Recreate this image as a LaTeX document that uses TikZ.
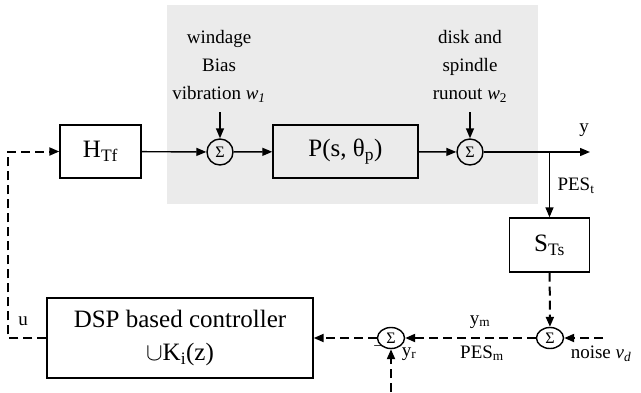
\documentclass[tikz,border=0pt]{standalone}
\usepackage{fontspec}
\setmainfont{Liberation Serif}
\usetikzlibrary{arrows.meta,shapes.geometric}
\definecolor{plantgray}{RGB}{235,235,235}
\begin{document}
\begin{tikzpicture}[x=1pt,y=-1pt,
    blk/.style={draw,line width=1.4pt,inner sep=0pt,font=\fontsize{25}{33}\selectfont,align=center},
    sum/.style={draw,circle,line width=1.4pt,minimum size=26pt,inner sep=0pt,font=\fontsize{16}{16}\selectfont},
    sumflat/.style={sum,ellipse,minimum width=27pt,minimum height=21pt},
    lbl/.style={font=\fontsize{19}{28}\selectfont,align=center},
    sig/.style={line width=1.4pt,-{Triangle[length=10pt,width=8pt]}},
    smp/.style={sig,line width=2pt,dash pattern=on 9pt off 5pt}]
    \useasboundingbox (0,0) rectangle (641,392);
    \fill[plantgray] (167,5) rectangle (538,204);

    \node[blk,minimum width=81pt,minimum height=53pt] (htf) at (100.5,151.5) {H\textsubscript{Tf}};
    \node[sum] (s1) at (220,152) {Σ};
    \node[blk,minimum width=145pt,minimum height=53pt] (plant) at (345.5,151.5) {P(s, θ\textsubscript{p})};
    \node[sum] (s2) at (470,152) {Σ};
    \node[blk,minimum width=80pt,minimum height=54pt] (sts) at (549.5,245) {S\textsubscript{Ts}};
    \node[sumflat] (s3) at (550,338) {Σ};
    \node[sumflat] (s4) at (391,338) {Σ};
    \node[blk,minimum width=266pt,minimum height=80pt] (dsp) at (180,338) {DSP based controller\\$\cup$K\textsubscript{i}(z)};

    \node[lbl] (w1lbl) at (219,66) {windage\\Bias\\vibration \textit{w\textsubscript{1}}};
    \node[lbl] (w2lbl) at (470,66) {disk and\\spindle\\runout \textit{w}\textsubscript{2}};
    \coordinate (w1) at (220,112);
    \coordinate (w2) at (470,112);
    \coordinate (br) at (549.5,152);
    \coordinate (out) at (590,152);
    \coordinate (nd) at (603,338);
    \coordinate (yr) at (391,392);
    \coordinate (uc) at (8,338);

    \draw[sig] (htf) -- (s1);
    \draw[sig] (w1) -- (s1);
    \draw[sig] (s1) -- (plant);
    \draw[sig] (plant) -- (s2);
    \draw[sig] (w2) -- (s2);
    \draw[sig] (s2) -- (out);
    \draw[sig] (br) -- (sts);
    \draw[smp] (sts) -- (s3);
    \draw[smp] (nd) -- (s3);
    \draw[smp] (s3) -- (s4);
    \draw[smp] (s4) -- (dsp);
    \draw[smp] (yr) -- (s4);
    \draw[smp] (dsp.west) -- (uc) |- (htf.west);

    \node[lbl] (ylbl) at (584,130) {y};
    \node[lbl,anchor=west] (pest) at (554,186) {PES\textsubscript{t}};
    \node[lbl] (ymlbl) at (480,322) {y\textsubscript{m}};
    \node[lbl] (pesm) at (482,353) {PES\textsubscript{m}};
    \node[lbl] (vd) at (601,354) {noise \textit{v\textsubscript{d}}};
    \node[lbl] (yrlbl) at (409,354) {y\textsubscript{r}};
    \node[lbl,font=\fontsize{15}{15}\selectfont] (minus) at (378,348) {\textendash};
    \node[lbl] (ulbl) at (23,321) {u};
\end{tikzpicture}
\end{document}
